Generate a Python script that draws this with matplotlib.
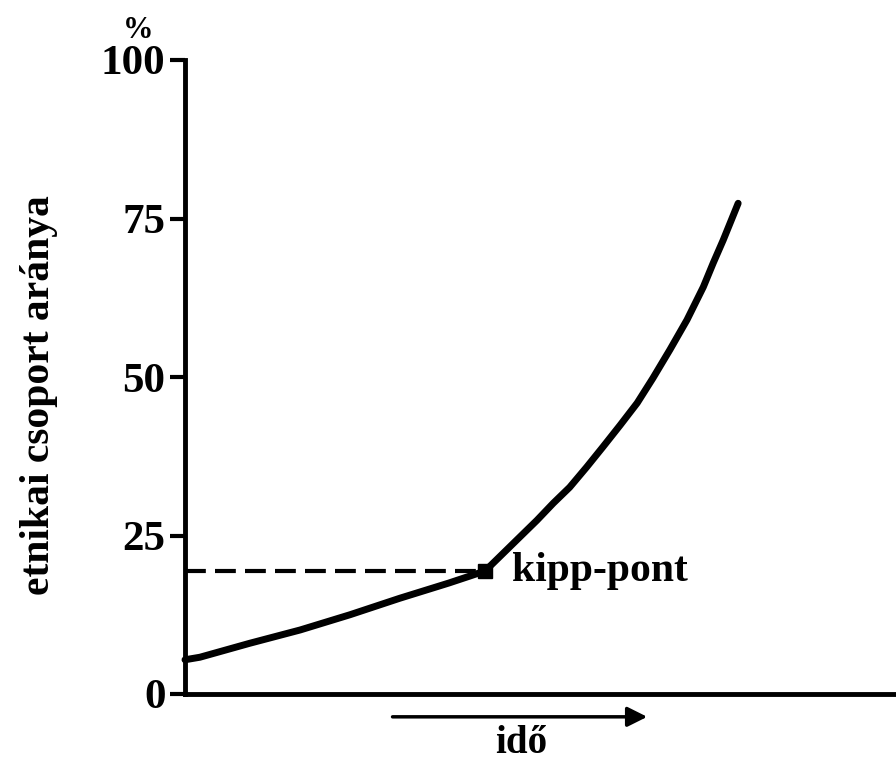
#Importing modules
#===========================================================================
import matplotlib
matplotlib.use("Agg")
import matplotlib.pyplot as plt

#Data
#===========================================================================
# time (arbitrary units, 0-100 across the axis)
ido = [0, 2.1, 9.1, 16.2, 23.2, 30.2, 37.1, 42.2, 49.5, 51.8, 54.1, 56.5, 58.8,
       61.2, 63.6, 65.8, 68.2, 70.6, 72.9, 74.3, 75.7, 77.8]
# share of the ethnic group (%)
arany = [5.4, 5.8, 8.0, 10.1, 12.5, 15.1, 17.5, 19.4, 27.4, 30.1, 32.6, 35.8, 39.0,
         42.4, 45.9, 49.8, 54.3, 59.0, 64.2, 68.0, 71.6, 77.4]
# tipping point
kipp_x = 42.2
kipp_y = 19.4
y_ticks = [0, 25, 50, 75, 100]

#Visualisation
#===========================================================================
plt.rcParams['font.family'] = ['Liberation Serif', 'DejaVu Serif']
plt.rcParams['font.weight'] = 'bold'

fig = plt.figure(figsize=(8.96, 7.69), dpi=100)
ax = fig.add_axes([185/896, 75/769, (896-185)/896, (694-60)/769])

ax.plot(ido, arany, color='black', lw=5, solid_capstyle='round',
        solid_joinstyle='round', clip_on=False)
ax.plot([0, kipp_x], [kipp_y, kipp_y], color='black', lw=3, dashes=(5, 2.2), clip_on=False)
ax.plot([kipp_x], [kipp_y], 's', color='black', ms=10, clip_on=False)
ax.text(kipp_x + 3.8, kipp_y, 'kipp-pont', fontsize=30, fontweight='bold',
        va='center', ha='left')

ax.set_xlim(0, 100)
ax.set_ylim(0, 100)
ax.spines['top'].set_visible(False)
ax.spines['right'].set_visible(False)
ax.spines['left'].set_linewidth(3.5)
ax.spines['bottom'].set_linewidth(3.5)
ax.set_xticks([])
ax.set_yticks(y_ticks)
ax.set_yticklabels([str(t) for t in y_ticks])
ax.tick_params(axis='y', direction='out', length=11, width=3, pad=3, labelsize=31)
for lab in ax.get_yticklabels():
    lab.set_fontweight('bold')

ax.set_ylabel('etnikai csoport aránya', fontsize=30, fontweight='bold')
ax.yaxis.set_label_coords(-127/711, 0.472)

# time arrow under the axis
ax.annotate('', xy=(65.4, -3.6), xytext=(28.8, -3.6), annotation_clip=False,
            arrowprops=dict(arrowstyle='-|>', color='black', lw=2.5, mutation_scale=30))
ax.text(47.3, -7.8, 'idő', fontsize=28, fontweight='bold', ha='center', va='center')

fig.text(138/896, 1 - 30/769, '%', fontsize=22, fontweight='bold', ha='center', va='center')

plt.savefig('out.png', dpi=100)
